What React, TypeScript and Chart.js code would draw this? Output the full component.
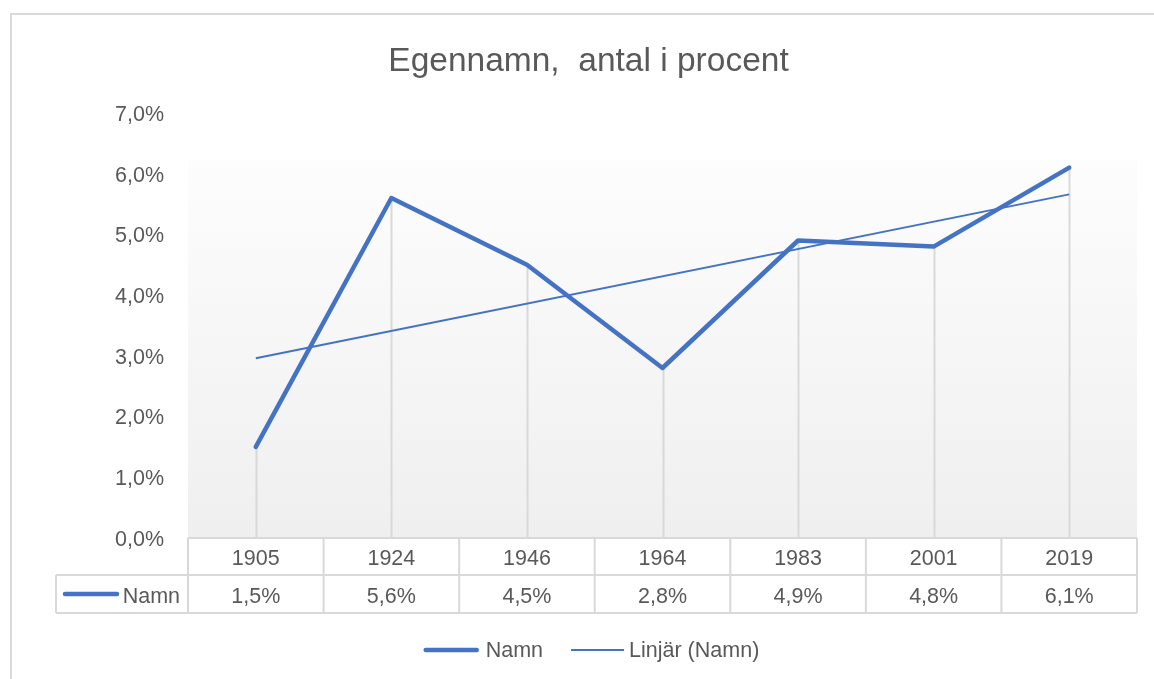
import React, { useEffect, useRef } from "react";
import { Chart, registerables } from "chart.js";

Chart.register(...registerables);

const chartTitle = "Egennamn,  antal i procent";
const categories = ["1905", "1924", "1946", "1964", "1983", "2001", "2019"];
const namnValues = [1.5, 5.6, 4.5, 2.8, 4.9, 4.8, 6.1];
// Linear trendline: start and end points only
const trendValues: (number | null)[] = [2.96, null, null, null, null, null, 5.66];
const seriesName = "Namn";
const trendName = "Linjär (Namn)";
const yMin = 0;
const yMax = 7;
const yStep = 1;

const FONT = "'Liberation Sans', Arial, sans-serif";
const TEXT = "#595959";
const GRID = "#d9d9d9";
const BLUE = "#4472C4";

const fmtPct = (v: number) => v.toFixed(1).replace(".", ",") + "%";

const decorPlugin = {
  id: "excelDecor",
  beforeDatasetsDraw(chart: any) {
    const { ctx, chartArea, scales } = chart;
    const xs = scales.x;
    const ys = scales.y;
    ctx.save();
    // plot area gradient
    const gTop = chartArea.top + 47;
    const grad = ctx.createLinearGradient(0, gTop, 0, chartArea.bottom);
    grad.addColorStop(0, "#fdfdfd");
    grad.addColorStop(1, "#efefef");
    ctx.fillStyle = grad;
    ctx.fillRect(chartArea.left, gTop, chartArea.right - chartArea.left, chartArea.bottom - gTop);
    // drop lines
    ctx.strokeStyle = GRID;
    ctx.lineWidth = 2;
    namnValues.forEach((v, i) => {
      const x = Math.round(xs.getPixelForValue(i)) + 0.5;
      ctx.beginPath();
      ctx.moveTo(x, ys.getPixelForValue(v));
      ctx.lineTo(x, ys.getPixelForValue(0));
      ctx.stroke();
    });
    ctx.restore();
  },
  afterDraw(chart: any) {
    const { ctx, chartArea, scales } = chart;
    const xs = scales.x;
    const n = categories.length;
    const colW = (chartArea.right - chartArea.left) / n;
    const t0 = chartArea.bottom;
    const t1 = t0 + 37;
    const t2 = t0 + 75;
    const keyLeft = 56;
    ctx.save();
    // outer chart border
    ctx.strokeStyle = GRID;
    ctx.lineWidth = 2;
    ctx.strokeRect(11, 14, 1200, 800);

    // title
    ctx.fillStyle = TEXT;
    ctx.font = `33.5px ${FONT}`;
    ctx.textAlign = "center";
    ctx.textBaseline = "alphabetic";
    ctx.fillText(chartTitle, 588.5, 70.5);

    // data table grid
    ctx.strokeStyle = GRID;
    ctx.lineWidth = 2;
    ctx.beginPath();
    ctx.moveTo(chartArea.left, t0);
    ctx.lineTo(chartArea.right, t0);
    ctx.moveTo(keyLeft, t1);
    ctx.lineTo(chartArea.right, t1);
    ctx.moveTo(keyLeft, t2);
    ctx.lineTo(chartArea.right, t2);
    ctx.moveTo(keyLeft, t1);
    ctx.lineTo(keyLeft, t2);
    for (let k = 0; k <= n; k++) {
      const x = chartArea.left + k * colW;
      ctx.moveTo(x, t0);
      ctx.lineTo(x, t2);
    }
    ctx.stroke();

    // table texts
    ctx.fillStyle = TEXT;
    ctx.font = `21.5px ${FONT}`;
    ctx.textAlign = "center";
    categories.forEach((c, i) => {
      const x = xs.getPixelForValue(i);
      ctx.fillText(c, x, t0 + 27);
      ctx.fillText(fmtPct(namnValues[i]), x, t1 + 28);
    });
    // legend key in table
    ctx.strokeStyle = BLUE;
    ctx.lineWidth = 4.5;
    ctx.lineCap = "round";
    ctx.beginPath();
    ctx.moveTo(65, t1 + 19);
    ctx.lineTo(117, t1 + 19);
    ctx.stroke();
    ctx.textAlign = "right";
    ctx.fillText(seriesName, chartArea.left - 8, t1 + 28);

    // bottom legend
    const w1 = ctx.measureText(seriesName).width;
    const w2 = ctx.measureText(trendName).width;
    const total = 55 + 7 + w1 + 28 + 53 + 5 + w2;
    let x = 591.5 - total / 2;
    const ly = 650;
    ctx.textAlign = "left";
    ctx.lineWidth = 4.5;
    ctx.beginPath();
    ctx.moveTo(x + 2, ly);
    ctx.lineTo(x + 53, ly);
    ctx.stroke();
    x += 55 + 7;
    ctx.fillText(seriesName, x, 657);
    x += w1 + 28;
    ctx.lineWidth = 2;
    ctx.lineCap = "butt";
    ctx.beginPath();
    ctx.moveTo(x, ly);
    ctx.lineTo(x + 53, ly);
    ctx.stroke();
    x += 53 + 5;
    ctx.fillText(trendName, x, 657);
    ctx.restore();
  },
};

export default function App() {
  const ref = useRef<HTMLCanvasElement | null>(null);
  useEffect(() => {
    document.body.style.margin = "0";
    const canvas = ref.current;
    if (!canvas) return;
    const chart = new Chart(canvas, {
      type: "line",
      data: {
        labels: categories,
        datasets: [
          {
            label: seriesName,
            data: namnValues,
            borderColor: BLUE,
            backgroundColor: BLUE,
            borderWidth: 4.5,
            pointRadius: 0,
            tension: 0,
            borderCapStyle: "round",
            borderJoinStyle: "round",
          },
          {
            label: trendName,
            data: trendValues,
            borderColor: BLUE,
            backgroundColor: BLUE,
            borderWidth: 2,
            pointRadius: 0,
            spanGaps: true,
            tension: 0,
          },
        ],
      },
      options: {
        animation: false,
        responsive: false,
        devicePixelRatio: 1,
        layout: { padding: { top: 113, right: 17, left: 0, bottom: 0 } },
        plugins: {
          legend: { display: false },
          title: { display: false },
          tooltip: { enabled: false },
        },
        scales: {
          x: {
            type: "category",
            offset: true,
            grid: { display: false, drawTicks: false },
            border: { display: false },
            ticks: { display: false },
            afterFit: (s: any) => {
              s.height = 141;
            },
          },
          y: {
            min: yMin,
            max: yMax,
            grid: { display: false, drawTicks: false },
            border: { display: false },
            ticks: {
              stepSize: yStep,
              padding: 24,
              labelOffset: 2,
              color: TEXT,
              font: { family: FONT, size: 21.5 },
              callback: (v: any) => fmtPct(Number(v)),
            },
            afterFit: (s: any) => {
              s.width = 188;
            },
          },
        },
      },
      plugins: [decorPlugin],
    });
    return () => chart.destroy();
  }, []);
  return (
    <div style={{ width: 1154, height: 679 }}>
      <canvas ref={ref} width={1154} height={679} style={{ display: "block" }} />
    </div>
  );
}
